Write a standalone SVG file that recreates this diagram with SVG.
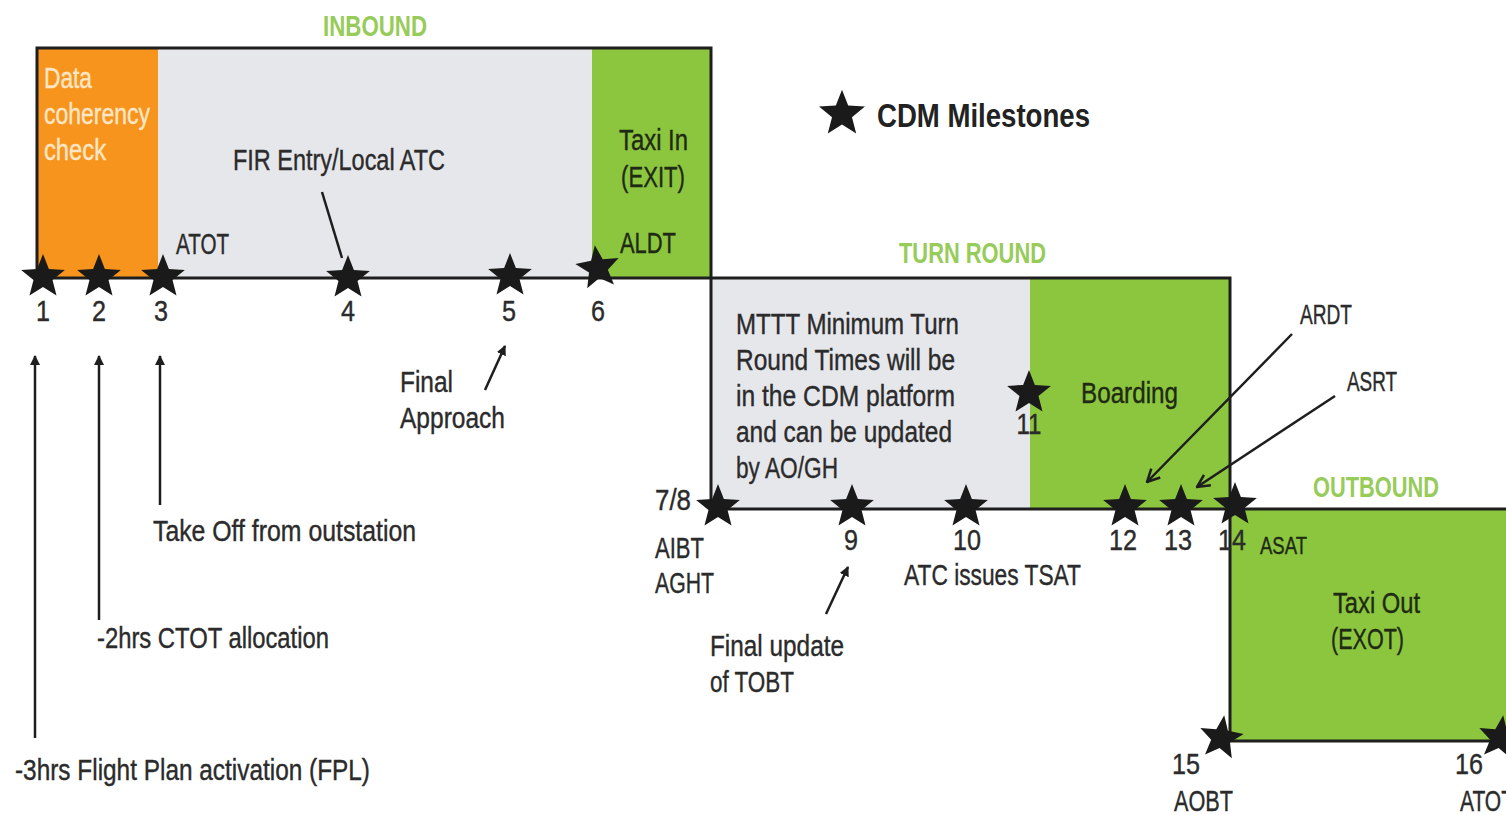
<svg xmlns="http://www.w3.org/2000/svg" width="1506" height="815" viewBox="0 0 1506 815">
<style>
text{font-family:"Liberation Sans",Arial,sans-serif;font-size:30px;fill:#2b2b2b;stroke:#2b2b2b;stroke-width:0.4}
.hd{font-weight:bold;font-size:29px;fill:#97cb5a;stroke:none}
.num{text-anchor:middle}
.mid{text-anchor:middle}
.cream{fill:#fde6c6;stroke:#fde6c6}
.dk{fill:#1f2a14;stroke:#1f2a14}
.ol{fill:none;stroke:#1e1e1e;stroke-width:3}
.cn{fill:none;stroke:#1e1e1e;stroke-width:2.5}
.star{fill:#1a1a1a}
</style>
<defs>
<path id="st" d="M0,-23 L5.88,-8.09 L21.87,-7.11 L9.51,3.09 L13.52,18.61 L0,10 L-13.52,18.61 L-9.51,3.09 L-21.87,-7.11 L-5.88,-8.09 Z"/>
<marker id="af" viewBox="0 0 10 10" refX="9" refY="5" markerWidth="4" markerHeight="4" orient="auto" markerUnits="strokeWidth">
<path d="M0,0 L10,5 L0,10 z" fill="#1e1e1e"/>
</marker>
<marker id="ao" viewBox="0 0 12 12" refX="11" refY="6" markerWidth="6" markerHeight="6" orient="auto" markerUnits="strokeWidth">
<path d="M1,1 L11,6 L1,11" fill="none" stroke="#1e1e1e" stroke-width="2"/>
</marker>
</defs>
<rect width="1506" height="815" fill="#fff"/>

<g id="phase-inbound">
<rect x="37" y="48" width="121" height="230" fill="#f7941d"/>
<rect x="158" y="48" width="434" height="230" fill="#e6e7eb"/>
<rect x="592" y="48" width="119" height="230" fill="#8cc63f"/>
<text class="hd" x="323" y="36" textLength="104" lengthAdjust="spacingAndGlyphs">INBOUND</text>
<text class="cream" x="44" y="88" textLength="48" lengthAdjust="spacingAndGlyphs">Data</text>
<text class="cream" x="44" y="124" textLength="106" lengthAdjust="spacingAndGlyphs">coherency</text>
<text class="cream" x="44" y="160" textLength="62" lengthAdjust="spacingAndGlyphs">check</text>
<text x="233" y="170" textLength="212" lengthAdjust="spacingAndGlyphs">FIR Entry/Local ATC</text>
<text x="176" y="254" textLength="53" lengthAdjust="spacingAndGlyphs">ATOT</text>
<text class="dk" x="619" y="150" textLength="69" lengthAdjust="spacingAndGlyphs">Taxi In</text>
<text class="dk" x="621" y="187" textLength="64" lengthAdjust="spacingAndGlyphs">(EXIT)</text>
<text class="dk" x="620" y="253" textLength="56" lengthAdjust="spacingAndGlyphs">ALDT</text>
</g>

<g id="phase-turnround">
<rect x="711" y="278" width="319" height="231" fill="#e6e7eb"/>
<rect x="1030" y="278" width="200" height="231" fill="#8cc63f"/>
<text class="hd" x="899" y="263" textLength="147" lengthAdjust="spacingAndGlyphs">TURN ROUND</text>
<text x="736" y="334" textLength="223" lengthAdjust="spacingAndGlyphs">MTTT Minimum Turn</text>
<text x="736" y="370" textLength="219" lengthAdjust="spacingAndGlyphs">Round Times will be</text>
<text x="736" y="406" textLength="219" lengthAdjust="spacingAndGlyphs">in the CDM platform</text>
<text x="736" y="442" textLength="216" lengthAdjust="spacingAndGlyphs">and can be updated</text>
<text x="736" y="478" textLength="102" lengthAdjust="spacingAndGlyphs">by AO/GH</text>
<text class="dk" x="1081" y="403" textLength="97" lengthAdjust="spacingAndGlyphs">Boarding</text>
</g>

<g id="phase-outbound">
<rect x="1230" y="509" width="276" height="232" fill="#8cc63f"/>
<text class="hd" x="1313" y="497" textLength="126" lengthAdjust="spacingAndGlyphs">OUTBOUND</text>
<text class="dk" x="1333" y="613" textLength="87" lengthAdjust="spacingAndGlyphs">Taxi Out</text>
<text class="dk" x="1331" y="649" textLength="73" lengthAdjust="spacingAndGlyphs">(EXOT)</text>
<text class="dk" style="font-size:24px" x="1260" y="554" textLength="47" lengthAdjust="spacingAndGlyphs">ASAT</text>
</g>

<g id="outline">
<path class="ol" d="M37,278 V48 H711 V509 H1506"/>
<path class="ol" d="M37,278 H1230 V741 H1506"/>
</g>

<g id="legend">
<use href="#st" class="star" transform="translate(842,114) scale(1.05)"/>
<text x="877" y="127" style="font-weight:bold;font-size:33px;fill:#222;stroke:none" textLength="213" lengthAdjust="spacingAndGlyphs">CDM Milestones</text>
</g>

<g id="milestones">
<use href="#st" class="star" x="43" y="277"/>
<use href="#st" class="star" x="99" y="277"/>
<use href="#st" class="star" x="163" y="277"/>
<use href="#st" class="star" x="348" y="278"/>
<use href="#st" class="star" x="510" y="276"/>
<use href="#st" class="star" transform="translate(598,268) rotate(-8)"/>
<use href="#st" class="star" x="718" y="507"/>
<use href="#st" class="star" x="852" y="507"/>
<use href="#st" class="star" x="966" y="507"/>
<use href="#st" class="star" x="1029" y="393"/>
<use href="#st" class="star" x="1125" y="507"/>
<use href="#st" class="star" x="1181" y="507"/>
<use href="#st" class="star" x="1235" y="505"/>
<use href="#st" class="star" transform="translate(1221,738) rotate(8)"/>
<use href="#st" class="star" transform="translate(1500,738) rotate(8)"/>
<text class="num" x="43" y="321" textLength="14" lengthAdjust="spacingAndGlyphs">1</text>
<text class="num" x="99" y="321" textLength="14" lengthAdjust="spacingAndGlyphs">2</text>
<text class="num" x="161" y="321" textLength="14" lengthAdjust="spacingAndGlyphs">3</text>
<text class="num" x="348" y="321" textLength="14" lengthAdjust="spacingAndGlyphs">4</text>
<text class="num" x="509" y="321" textLength="14" lengthAdjust="spacingAndGlyphs">5</text>
<text class="num" x="598" y="321" textLength="14" lengthAdjust="spacingAndGlyphs">6</text>
<text x="655" y="510" textLength="36" lengthAdjust="spacingAndGlyphs">7/8</text>
<text class="num" x="851" y="550" textLength="14" lengthAdjust="spacingAndGlyphs">9</text>
<text class="num" x="967" y="550" textLength="28" lengthAdjust="spacingAndGlyphs">10</text>
<text class="num" x="1029" y="434" textLength="25" lengthAdjust="spacingAndGlyphs">11</text>
<text class="num" x="1123" y="550" textLength="28" lengthAdjust="spacingAndGlyphs">12</text>
<text class="num" x="1178" y="550" textLength="28" lengthAdjust="spacingAndGlyphs">13</text>
<text class="num" x="1232" y="550" textLength="28" lengthAdjust="spacingAndGlyphs">14</text>
<text class="num" x="1186" y="774" textLength="28" lengthAdjust="spacingAndGlyphs">15</text>
<text class="num" x="1469" y="774" textLength="28" lengthAdjust="spacingAndGlyphs">16</text>
</g>

<g id="annotations">
<text x="400" y="392" textLength="53" lengthAdjust="spacingAndGlyphs">Final</text>
<text x="400" y="428" textLength="105" lengthAdjust="spacingAndGlyphs">Approach</text>
<text x="153" y="541" textLength="263" lengthAdjust="spacingAndGlyphs">Take Off from outstation</text>
<text x="97" y="648" textLength="232" lengthAdjust="spacingAndGlyphs">-2hrs CTOT allocation</text>
<text x="15" y="780" textLength="355" lengthAdjust="spacingAndGlyphs">-3hrs Flight Plan activation (FPL)</text>
<text x="655" y="558" textLength="49" lengthAdjust="spacingAndGlyphs">AIBT</text>
<text x="655" y="593" textLength="59" lengthAdjust="spacingAndGlyphs">AGHT</text>
<text x="710" y="656" textLength="134" lengthAdjust="spacingAndGlyphs">Final update</text>
<text x="710" y="692" textLength="84" lengthAdjust="spacingAndGlyphs">of TOBT</text>
<text x="904" y="585" textLength="177" lengthAdjust="spacingAndGlyphs">ATC issues TSAT</text>
<text x="1300" y="324" style="font-size:27px" textLength="52" lengthAdjust="spacingAndGlyphs">ARDT</text>
<text x="1347" y="391" style="font-size:27px" textLength="50" lengthAdjust="spacingAndGlyphs">ASRT</text>
<text x="1174" y="811" textLength="59" lengthAdjust="spacingAndGlyphs">AOBT</text>
<text x="1460" y="811" textLength="54" lengthAdjust="spacingAndGlyphs">ATOT</text>
</g>

<g id="connectors">
<line class="cn" x1="322" y1="192" x2="342" y2="258"/>
<line class="cn" x1="485" y1="390" x2="505" y2="346" marker-end="url(#af)"/>
<line class="cn" x1="35" y1="738" x2="35" y2="356" marker-end="url(#af)"/>
<line class="cn" x1="99" y1="620" x2="99" y2="356" marker-end="url(#af)"/>
<line class="cn" x1="160" y1="505" x2="160" y2="356" marker-end="url(#af)"/>
<line class="cn" x1="826" y1="614" x2="848" y2="567" marker-end="url(#af)"/>
<line class="cn" x1="1292" y1="334" x2="1147" y2="482" marker-end="url(#ao)"/>
<line class="cn" x1="1335" y1="396" x2="1197" y2="487" marker-end="url(#ao)"/>
</g>
</svg>
